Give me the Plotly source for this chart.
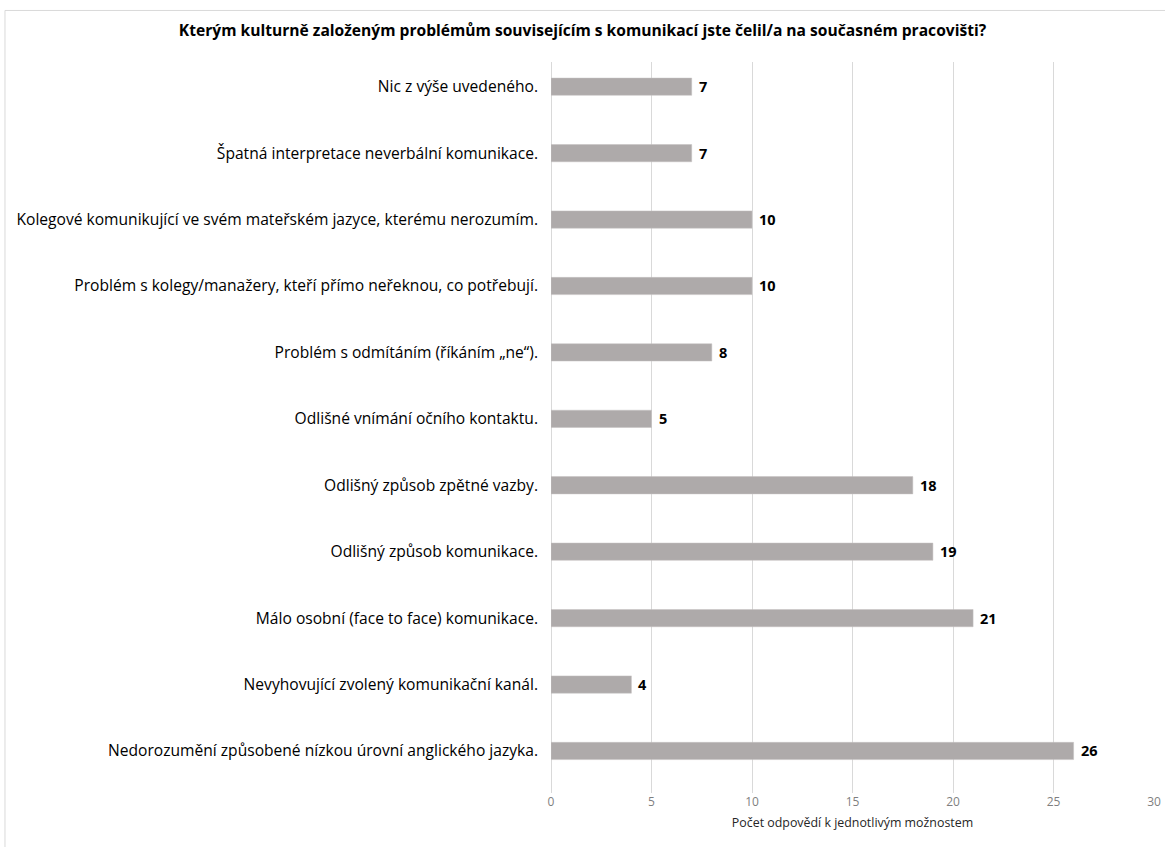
import plotly.graph_objects as go

# Answer options, listed from the bottom of the chart to the top
categories = [
    "Nedorozumění způsobené nízkou úrovní anglického jazyka.",
    "Nevyhovující zvolený komunikační kanál.",
    "Málo osobní (face to face) komunikace.",
    "Odlišný způsob komunikace.",
    "Odlišný způsob zpětné vazby.",
    "Odlišné vnímání očního kontaktu.",
    "Problém s odmítáním (říkáním „ne“).",
    "Problém s kolegy/manažery, kteří přímo neřeknou, co potřebují.",
    "Kolegové komunikující ve svém mateřském jazyce, kterému nerozumím.",
    "Špatná interpretace neverbální komunikace.",
    "Nic z výše uvedeného.",
]
counts = [26, 4, 21, 19, 18, 5, 8, 10, 10, 7, 7]

title_text = "Kterým kulturně založeným problémům souvisejícím s komunikací jste čelil/a na současném pracovišti?"
x_title = "Počet odpovědí k jednotlivým možnostem"
x_ticks = [0, 5, 10, 15, 20, 25, 30]

FONT = "Open Sans"
positions = list(range(len(categories)))

fig = go.Figure(
    go.Bar(
        x=counts,
        y=positions,
        orientation="h",
        width=0.26,
        marker=dict(color="#aeaaaa", line=dict(color="#c4c1c1", width=0.5)),
        hoverinfo="x+y",
    )
)

# Value labels at the end of each bar
for pos, val in zip(positions, counts):
    fig.add_annotation(
        x=val, y=pos, text=f"<b>{val}</b>", showarrow=False,
        xanchor="left", yanchor="middle", xshift=5,
        font=dict(family=FONT, size=14.5, color="#000000"),
    )

# Light frame around the whole chart
fig.add_shape(
    type="rect", xref="paper", yref="paper",
    x0=-0.9055, x1=1.1, y0=-0.2, y1=1.0705,
    line=dict(color="#d9d9d9", width=1), fillcolor="rgba(0,0,0,0)", layer="below",
)

fig.update_layout(
    width=1165, height=847,
    margin=dict(l=551, r=11, t=62, b=54, autoexpand=False),
    paper_bgcolor="white", plot_bgcolor="white",
    showlegend=False,
    title=dict(
        text=f"<b>{title_text}</b>",
        x=0.5, xref="container", xanchor="center",
        y=1 - 31 / 847, yref="container", yanchor="middle",
        font=dict(family=FONT, size=15.6, color="#000000"),
    ),
    xaxis=dict(
        range=[0, 30], tickvals=x_ticks, automargin=False,
        showgrid=True, gridcolor="#d9d9d9", gridwidth=1,
        zeroline=True, zerolinecolor="#d9d9d9", zerolinewidth=1,
        showline=False, ticks="",
        tickfont=dict(family=FONT, size=12, color="#7f7f7f"),
        title=dict(text=x_title, standoff=9,
                   font=dict(family=FONT, size=12.4, color="#262626")),
    ),
    yaxis=dict(
        range=[-0.633, 10.372], automargin=False,
        tickvals=positions, ticktext=categories,
        showgrid=False, zeroline=False, showline=False, ticks="",
        ticklabelstandoff=12,
        tickfont=dict(family=FONT, size=15.6, color="#000000"),
    ),
)

fig.write_html("out.html")
